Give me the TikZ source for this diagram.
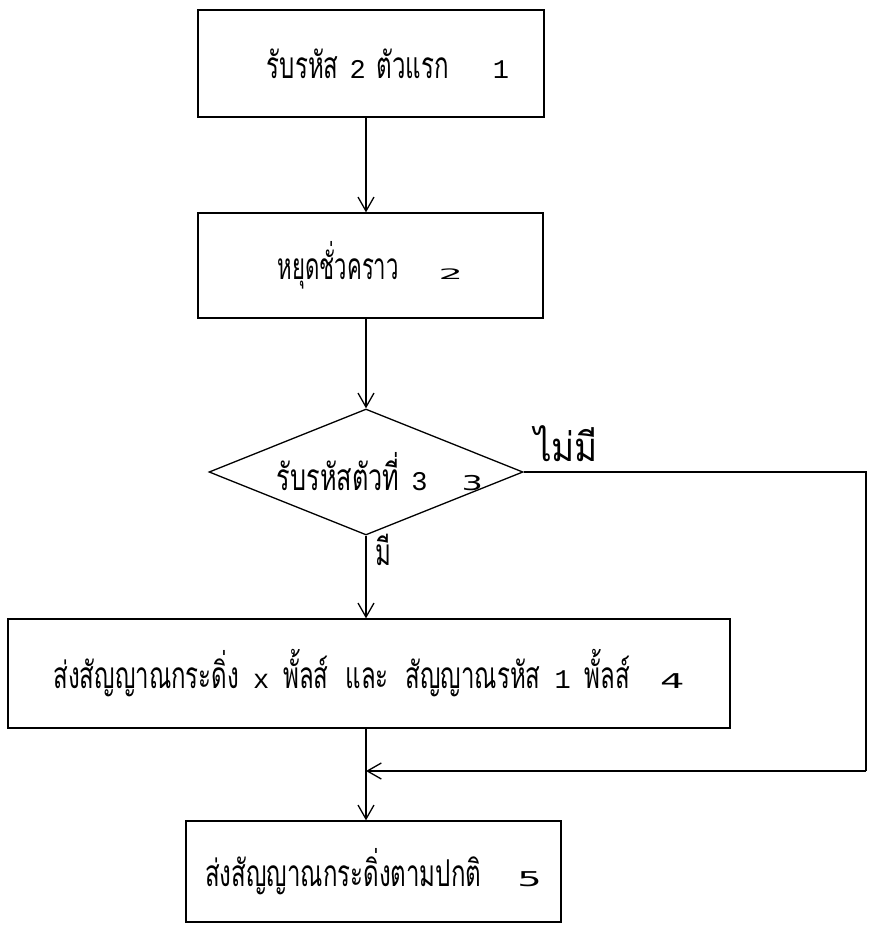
\documentclass[tikz,border=0pt]{standalone}
\usepackage{fontspec}
\usepackage{graphicx}
\usetikzlibrary{arrows.meta,shapes.geometric}
\newfontfamily\thaifont[Script=Thai,FakeStretch=0.65]{Loma}
\newfontfamily\twfont{Liberation Mono}
\newfontfamily\bigdig{DejaVu Sans}
\newcommand{\tw}[1]{{\twfont\fontsize{27}{27}\selectfont #1}}
\newcommand{\bd}[2][0.85]{\scalebox{1.6}[#1]{\bigdig\fontsize{24}{24}\selectfont #2}}
\newcommand{\tx}[2][1]{\scalebox{#1}[1]{#2}}
\begin{document}
\begin{tikzpicture}[x=1pt,y=-1pt,
  every node/.style={font=\thaifont\fontsize{37}{40}\selectfont},
  boxnode/.style={draw, line width=1.3pt, rectangle, inner sep=0pt},
  decision/.style={draw, line width=1.3pt, diamond, inner sep=0pt},
  flow/.style={line width=1.3pt, -{Straight Barb[length=14pt,width=16pt,line width=1.3pt]}},
  plain/.style={line width=1.3pt},
  lbl/.style={inner sep=0pt}]
\useasboundingbox (0,0) rectangle (868,929);
\node[boxnode, minimum width=346pt, minimum height=107pt] (b1) at (371,63.5)
  {\hspace{34pt}รับรหัส\hspace{11pt}\tw{2}\hspace{11pt}ตัวแรก\hspace{44pt}\tw{1}};
\node[boxnode, minimum width=345pt, minimum height=105pt] (b2) at (370.5,265.5)
  {\tx[0.92]{หยุดชั่วคราว}\hspace{40pt}\bd[0.6]{2}};
\node[decision, minimum width=314pt, minimum height=126pt, aspect=2.5] (d3) at (366,472) {};
\node[lbl] (t3) at (380,472) {\tx[1.05]{รับรหัสตัวที่}\hspace{12pt}\tw{3}\hspace{34pt}\scalebox{1.4}[0.85]{\bigdig\fontsize{24}{24}\selectfont 3}};
\node[boxnode, minimum width=722pt, minimum height=109pt] (b4) at (369,673.5)
  {ส่งสัญญาณกระดิ่ง\hspace{14pt}\tw{x}\hspace{14pt}พั้ลส์\hspace{17pt}และ\hspace{17pt}สัญญาณรหัส\hspace{14pt}\tw{1}\hspace{14pt}พั้ลส์\hspace{30pt}\bd{4}};
\node[boxnode, minimum width=375pt, minimum height=101pt] (b5) at (373.5,871.5)
  {ส่งสัญญาณกระดิ่งตามปกติ\hspace{36pt}\bd{5}};
\node[lbl, font=\thaifont\fontsize{40}{44}\selectfont] (no) at (566,444) {\tx[1.35]{ไม่มี}};
\node[lbl] (yes) at (383,550) {มี};
\coordinate (r1) at (866,472);
\coordinate (r2) at (866,771);
\coordinate (join) at (366,771);
\draw[flow] (b1.south -| 366,0) -- (b2.north -| 366,0);
\draw[flow] (b2.south -| 366,0) -- (d3.north);
\draw[flow] (d3.south) -- (b4.north -| 366,0);
\draw[flow] (b4.south -| 366,0) -- (b5.north -| 366,0);
\draw[plain] (d3.east) -- (r1) -- (r2);
\draw[flow] (r2) -- (join);
\end{tikzpicture}
\end{document}
